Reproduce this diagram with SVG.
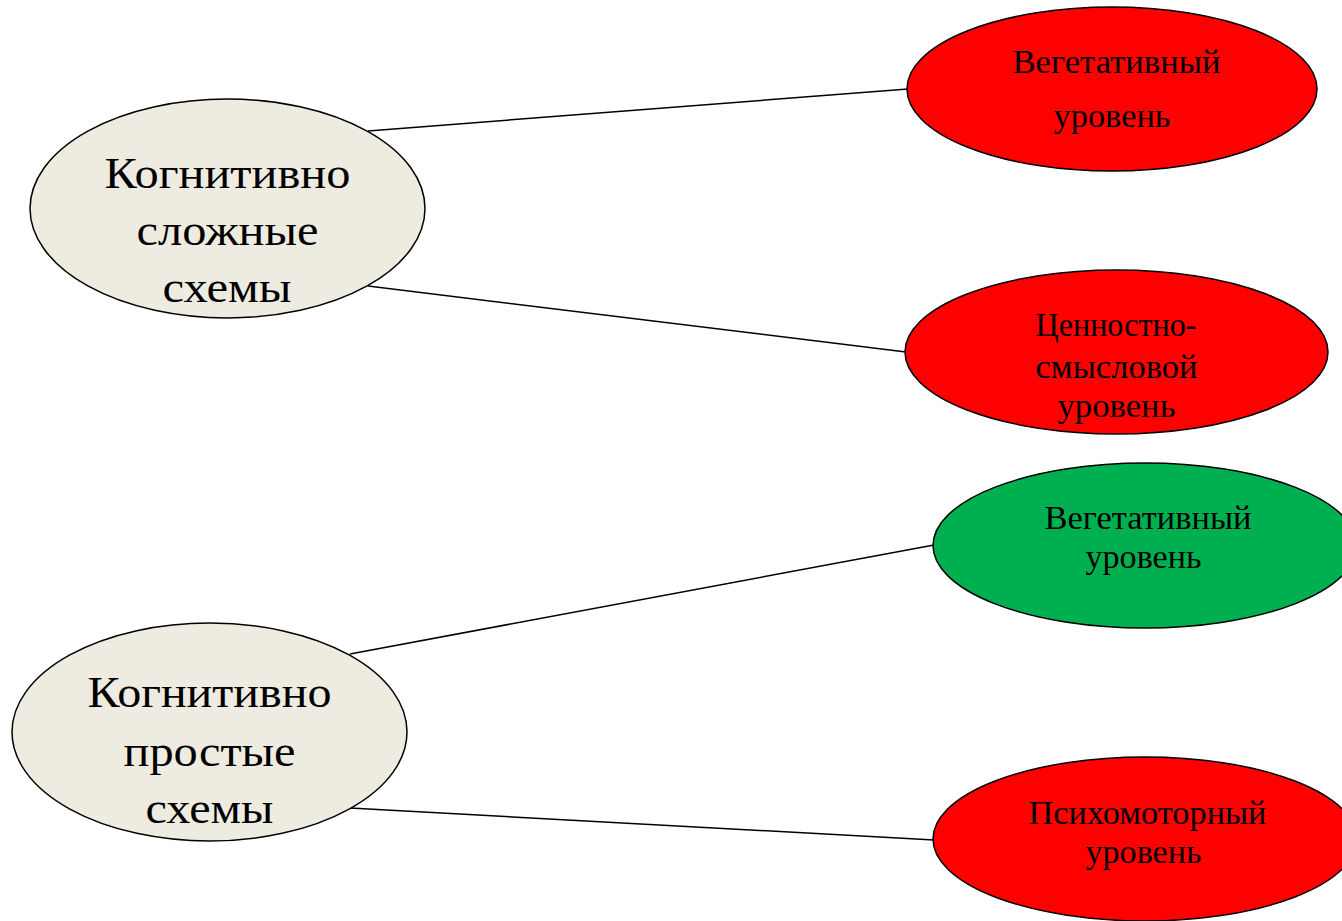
<svg xmlns="http://www.w3.org/2000/svg" width="1342" height="921" viewBox="0 0 1342 921">
<style>
.node{stroke:#000;stroke-width:1.5}
.beige{fill:#EEECE1}
.red{fill:#FF0000}
.green{fill:#00B050}
.big{font-family:"Liberation Serif","Times New Roman",serif;font-size:45px;fill:#000;text-anchor:middle}
.small{font-family:"Liberation Serif","Times New Roman",serif;font-size:34px;fill:#000;text-anchor:middle}
.conn{stroke:#000;stroke-width:1.5;fill:none}
</style>
<rect width="1342" height="921" fill="#fff"/>
<g id="connectors">
<line class="conn" x1="368" y1="131" x2="908" y2="89"/>
<line class="conn" x1="368" y1="286" x2="906" y2="352"/>
<line class="conn" x1="350" y1="654" x2="934" y2="545"/>
<line class="conn" x1="350" y1="808" x2="934" y2="840"/>
</g>
<g id="complex">
<ellipse class="node beige" cx="227.5" cy="208.5" rx="197.5" ry="109.5"/>
<text class="big" x="227.5" y="188" textLength="246" lengthAdjust="spacingAndGlyphs">Когнитивно</text>
<text class="big" x="227.5" y="245" textLength="182" lengthAdjust="spacingAndGlyphs">сложные</text>
<text class="big" x="227" y="302" textLength="129" lengthAdjust="spacingAndGlyphs">схемы</text>
</g>
<g id="simple">
<ellipse class="node beige" cx="209.5" cy="732" rx="197.5" ry="109"/>
<text class="big" x="209.5" y="707" textLength="244" lengthAdjust="spacingAndGlyphs">Когнитивно</text>
<text class="big" x="209.5" y="766" textLength="172" lengthAdjust="spacingAndGlyphs">простые</text>
<text class="big" x="209.5" y="823" textLength="128" lengthAdjust="spacingAndGlyphs">схемы</text>
</g>
<g id="veg1">
<ellipse class="node red" cx="1112" cy="89" rx="205" ry="82"/>
<text class="small" x="1116.5" y="73" textLength="208" lengthAdjust="spacingAndGlyphs">Вегетативный</text>
<text class="small" x="1112" y="127" textLength="117" lengthAdjust="spacingAndGlyphs">уровень</text>
</g>
<g id="value">
<ellipse class="node red" cx="1116.5" cy="352" rx="211.5" ry="82"/>
<text class="small" x="1116" y="336" textLength="161" lengthAdjust="spacingAndGlyphs">Ценностно-</text>
<text class="small" x="1116.5" y="378" textLength="162" lengthAdjust="spacingAndGlyphs">смысловой</text>
<text class="small" x="1116.5" y="417" textLength="118" lengthAdjust="spacingAndGlyphs">уровень</text>
</g>
<g id="veg2">
<ellipse class="node green" cx="1145" cy="545.5" rx="212" ry="82.5"/>
<text class="small" x="1148" y="529" textLength="207" lengthAdjust="spacingAndGlyphs">Вегетативный</text>
<text class="small" x="1143.5" y="568" textLength="116" lengthAdjust="spacingAndGlyphs">уровень</text>
</g>
<g id="psycho">
<ellipse class="node red" cx="1145" cy="839" rx="212" ry="82"/>
<text class="small" x="1147.5" y="824" textLength="238" lengthAdjust="spacingAndGlyphs">Психомоторный</text>
<text class="small" x="1143.5" y="863" textLength="116" lengthAdjust="spacingAndGlyphs">уровень</text>
</g>
</svg>
